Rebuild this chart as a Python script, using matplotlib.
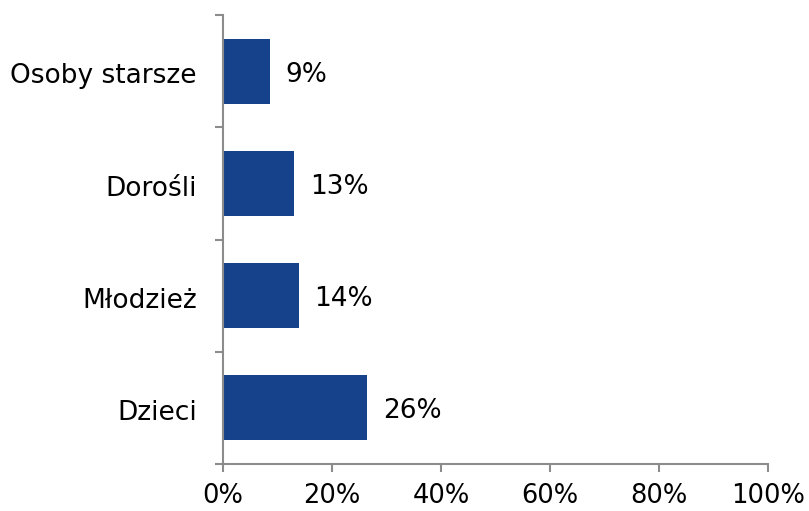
import matplotlib.pyplot as plt
import matplotlib.ticker as mticker

categories = ['Dzieci', 'Młodzież', 'Dorośli', 'Osoby starsze']
values = [26.4, 13.9, 13.0, 8.6]
xticks = [0, 20, 40, 60, 80, 100]

fig = plt.figure(figsize=(8.09, 5.11), dpi=100)
ax = fig.add_axes([0.2757, 0.092, 0.6736, 0.8786])

ypos = range(len(categories))
ax.barh(ypos, values, height=0.58, color='#15428a')

for y, v in zip(ypos, values):
    ax.text(v + 2.9, y - 0.03, f'{round(v)}%', va='center', ha='left', fontsize=19, color='black')

ax.set_xlim(0, 100)
ax.set_ylim(-0.5, len(categories) - 0.5)
ax.set_xticks(xticks)
ax.xaxis.set_major_formatter(mticker.FuncFormatter(lambda v, p: f'{v:.0f}%'))

# category labels between boundary ticks
ax.set_yticks([i - 0.5 for i in range(len(categories) + 1)])
ax.set_yticklabels([])
ax.set_yticks([i - 0.02 for i in ypos], minor=True)
ax.set_yticklabels(categories, minor=True)
ax.tick_params(axis='y', which='minor', length=0, pad=19, labelsize=19)
ax.tick_params(axis='y', which='major', length=6, width=1.5, color='#8c8c8c', direction='out')
ax.tick_params(axis='x', length=6, width=1.5, color='#8c8c8c', pad=8, labelsize=18.5)

for s in ['top', 'right']:
    ax.spines[s].set_visible(False)
for s in ['left', 'bottom']:
    ax.spines[s].set_color('#8c8c8c')
    ax.spines[s].set_linewidth(1.5)

plt.savefig('out.png', dpi=100)
